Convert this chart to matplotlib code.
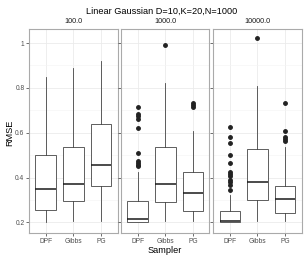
import matplotlib
matplotlib.use("Agg")
import matplotlib.pyplot as plt

plt.rcParams["font.family"] = ["Liberation Sans", "DejaVu Sans"]

samplers = ["DPF", "Gibbs", "PG"]
panels = ["100.0", "1000.0", "10000.0"]

# box stats: (whislo, q1, med, q3, whishi)
stats_100 = [
    (0.200, 0.257, 0.350, 0.499, 0.848),
    (0.208, 0.294, 0.371, 0.535, 0.887),
    (0.208, 0.362, 0.454, 0.637, 0.921),
]
stats_1000 = [
    (0.200, 0.200, 0.216, 0.294, 0.423),
    (0.204, 0.291, 0.371, 0.535, 0.824),
    (0.204, 0.252, 0.331, 0.425, 0.606),
]
stats_10000 = [
    (0.200, 0.200, 0.204, 0.252, 0.320),
    (0.204, 0.298, 0.380, 0.527, 0.807),
    (0.204, 0.242, 0.306, 0.361, 0.536),
]

outliers_100 = [[], [], []]
outliers_1000 = [
    [0.713, 0.683, 0.673, 0.662, 0.621, 0.510, 0.472, 0.465, 0.457, 0.450],
    [0.990],
    [0.732, 0.722, 0.713],
]
outliers_10000 = [
    [0.624, 0.579, 0.554, 0.499, 0.465, 0.425, 0.416, 0.405, 0.390, 0.378, 0.365, 0.346],
    [1.022],
    [0.732, 0.609, 0.579, 0.572, 0.564],
]

all_stats = [stats_100, stats_1000, stats_10000]
all_outliers = [outliers_100, outliers_1000, outliers_10000]

fig = plt.figure(figsize=(3.08, 2.60), dpi=100)

lefts = [0.095, 0.393, 0.6925]
width = 0.287
bottom, top = 0.105, 0.887

for i, (name, stats, outs) in enumerate(zip(panels, all_stats, all_outliers)):
    ax = fig.add_axes([lefts[i], bottom, width, top - bottom])
    bxp_stats = []
    for lab, s, o in zip(samplers, stats, outs):
        bxp_stats.append(dict(whislo=s[0], q1=s[1], med=s[2], q3=s[3], whishi=s[4],
                              fliers=o, label=lab))
    ax.bxp(bxp_stats, positions=[1, 2, 3], widths=0.75, patch_artist=True,
           showcaps=False,
           boxprops=dict(facecolor="white", edgecolor="#444444", linewidth=0.6),
           medianprops=dict(color="#1a1a1a", linewidth=1.1),
           whiskerprops=dict(color="#444444", linewidth=0.6),
           flierprops=dict(marker="o", markersize=2.5, markerfacecolor="#222222",
                           markeredgecolor="#222222"),
           zorder=3)
    ax.set_xlim(0.4, 3.6)
    ax.set_ylim(0.154, 1.061)
    ax.set_yticks([0.2, 0.4, 0.6, 0.8, 1.0])
    ax.set_yticks([0.3, 0.5, 0.7, 0.9], minor=True)
    ax.grid(which="major", color="#ebebeb", linewidth=0.6, zorder=0)
    ax.grid(which="minor", axis="y", color="#f4f4f4", linewidth=0.4, zorder=0)
    ax.set_axisbelow(True)
    ax.tick_params(which="major", length=2, width=0.5, color="#333333",
                   labelsize=4.8, labelcolor="#4d4d4d", pad=1.5)
    ax.tick_params(which="minor", length=0)
    if i == 0:
        ax.set_yticklabels(["0.2", "0.4", "0.6", "0.8", "1"])
    else:
        ax.set_yticklabels([])
    for sp in ax.spines.values():
        sp.set_color("#aaaaaa")
        sp.set_linewidth(0.8)
    ax.text(0.5, 1.02, name, transform=ax.transAxes, ha="center", va="bottom",
            fontsize=5.2, color="#1a1a1a")

fig.text(0.525, 0.955, "Linear Gaussian D=10,K=20,N=1000", ha="center", va="center",
         fontsize=6.6)
fig.text(0.535, 0.038, "Sampler", ha="center", va="center", fontsize=6.6)
fig.text(0.033, 0.49, "RMSE", ha="center", va="center", rotation=90, fontsize=6.6)

fig.savefig("out.png", dpi=100)
plt.close(fig)
